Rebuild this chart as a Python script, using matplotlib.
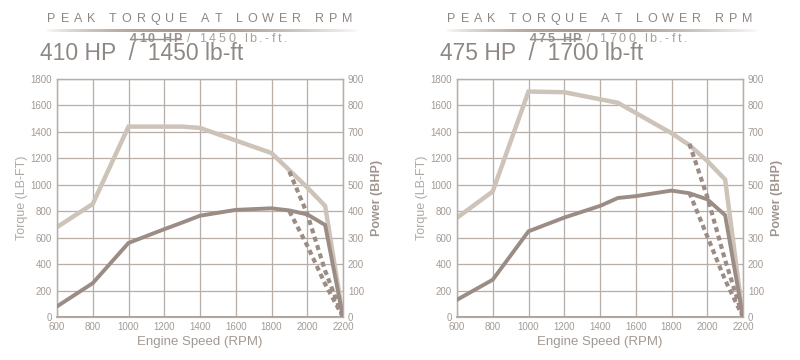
import numpy as np
import matplotlib.pyplot as plt

plt.rcParams['font.family'] = ['Liberation Sans', 'DejaVu Sans']

# ---- data ----
x_ticks = [600, 800, 1000, 1200, 1400, 1600, 1800, 2000, 2200]

# 410 HP engine
torque_410_rpm = [600, 800, 1000, 1300, 1400, 1800, 1900, 2000, 2100, 2200]
torque_410 = [680, 855, 1440, 1440, 1430, 1240, 1110, 980, 840, 0]
power_410_rpm = [600, 800, 1000, 1200, 1300, 1400, 1600, 1800, 1900, 2000, 2100, 2200]
power_410 = [40, 128, 280, 332, 357, 383, 405, 411, 403, 388, 348, 0]

# 475 HP engine
torque_475_rpm = [600, 800, 1000, 1200, 1500, 1800, 1900, 2000, 2100, 2200]
torque_475 = [750, 950, 1705, 1700, 1620, 1390, 1300, 1180, 1040, 0]
power_475_rpm = [600, 800, 1000, 1200, 1400, 1500, 1600, 1800, 1900, 2000, 2100, 2200]
power_475 = [65, 141, 324, 376, 420, 450, 457, 478, 468, 445, 385, 0]

# dotted governor roll-off curves (power axis)
dash_rpm = [1900, 2000, 2100, 2200]
dash_410_a = [550, 390, 175, 0]
dash_410_b = [400, 270, 125, 0]
dash_475_a = [655, 455, 215, 0]
dash_475_b = [470, 305, 140, 0]

big_titles = ['410 HP  /  1450 lb-ft', '475 HP  /  1700 lb-ft']
small_hp = ['410 HP', '475 HP']
small_tq = [' / 1450 lb.-ft.', ' / 1700 lb.-ft.']

LIGHT = '#cdc3b9'
DARK = '#9b8c85'
GRID = '#b7aea7'
TXT = '#a39a94'

W, H = 800, 360
fig = plt.figure(figsize=(8, 3.6), dpi=100)
renderer = fig.canvas.get_renderer()


def spaced(x, y, s, size, gap, color, weight='normal', center=False):
    # draw text char by char with extra letter spacing (pixel coords, y from top)
    widths = []
    for ch in s:
        if ch == ' ':
            widths.append(size * 100 / 72 * 0.28)
        else:
            t = fig.text(0, 0, ch, fontsize=size, fontweight=weight)
            widths.append(t.get_window_extent(renderer).width)
            t.remove()
    total = sum(widths) + gap * (len(s) - 1)
    if center:
        x = x - total / 2
    start = x
    for ch, w in zip(s, widths):
        if ch != ' ':
            fig.text(x / W, 1 - y / H, ch, fontsize=size, color=color,
                     fontweight=weight, va='baseline', ha='left')
        x += w + gap
    return start, x - gap


def draw_panel(ox, t_rpm, torque, p_rpm, power, dash_a, dash_b, big, hp, tq):
    ax = fig.add_axes([(ox + 57) / W, 43 / H, 286 / W, 238 / H])
    ax2 = ax.twinx()

    ax.plot(t_rpm, torque, color=LIGHT, lw=3.2, solid_joinstyle='miter', zorder=3)
    ax2.plot(p_rpm, power, color=DARK, lw=2.8, solid_joinstyle='miter', zorder=3)
    ax2.plot(dash_rpm, dash_a, color=DARK, lw=3.0, ls=(0, (1.2, 0.9)), zorder=2)
    ax2.plot(dash_rpm, dash_b, color=DARK, lw=3.0, ls=(0, (1.2, 0.9)), zorder=2)

    ax.set_xlim(600, 2200)
    ax.set_ylim(0, 1800)
    ax2.set_ylim(0, 900)
    ax.set_xticks(x_ticks)
    ax.set_yticks(np.arange(0, 1801, 200))
    ax2.set_yticks(np.arange(0, 901, 100))
    ax.grid(True, color=GRID, lw=0.9)
    ax.set_axisbelow(True)
    for a in (ax, ax2):
        a.tick_params(length=0, labelsize=7, labelcolor=TXT, pad=3.5)
        for sp in a.spines.values():
            sp.set_color(GRID)
            sp.set_linewidth(0.9)
    ax.spines['bottom'].set_color('#9a8f88')
    ax.spines['bottom'].set_linewidth(1.2)

    ax.set_xlabel('Engine Speed (RPM)', fontsize=9.5, color='#a29893', labelpad=3)
    ax.set_ylabel('Torque (LB-FT)', fontsize=9, color='#b0a8a2', labelpad=2)
    ax2.set_ylabel('Power (BHP)', fontsize=9, color='#a0958f',
                   fontweight='bold', labelpad=5)

    # header
    spaced(ox + 200, 22, 'PEAK TORQUE AT LOWER RPM', 9, 5.0, '#8e8681', center=True)
    ga = fig.add_axes([(ox + 45) / W, (H - 32) / H, 315 / W, 3 / H])
    prof = np.linspace(0, 1, 300)
    alpha = np.clip(np.sin(np.pi * prof) ** 0.8 * (1.1 - 0.4 * prof), 0, 1)
    img = np.zeros((1, 300, 4))
    img[..., 0], img[..., 1], img[..., 2] = 0.62, 0.57, 0.53
    img[0, :, 3] = alpha
    ga.imshow(img, aspect='auto')
    ga.axis('off')

    fig.text((ox + 40) / W, 1 - 60 / H, big, fontsize=16.5, color='#8f8782',
             va='baseline')
    s0, s1 = spaced(ox + 130, 42, hp, 9, 1.8, '#9a908a', weight='bold')
    fig.add_artist(plt.Line2D([s0 / W, s1 / W], [1 - 38.5 / H] * 2,
                              color='#9a908a', lw=1.0))
    spaced(s1, 42, tq, 9, 2.6, '#a8a09a')


draw_panel(0, torque_410_rpm, torque_410, power_410_rpm, power_410,
           dash_410_a, dash_410_b, big_titles[0], small_hp[0], small_tq[0])
draw_panel(400, torque_475_rpm, torque_475, power_475_rpm, power_475,
           dash_475_a, dash_475_b, big_titles[1], small_hp[1], small_tq[1])

fig.savefig('out.png', dpi=100, facecolor='white')
